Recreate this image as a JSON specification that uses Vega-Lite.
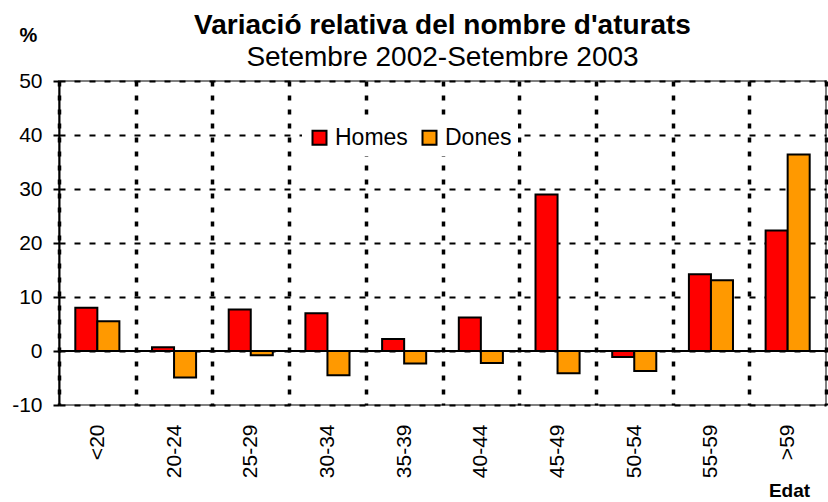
{
  "$schema": "https://vega.github.io/schema/vega-lite/v6.json",
  "autosize": "none",
  "width": 767,
  "height": 324,
  "padding": {"left": 59, "top": 81, "right": 2, "bottom": 97},
  "background": "white",
  "title": {
    "text": "Variació relativa del nombre d'aturats",
    "subtitle": "Setembre 2002-Setembre 2003",
    "font": "Liberation Sans",
    "fontSize": 28,
    "fontWeight": "bold",
    "color": "black",
    "subtitleFont": "Liberation Sans",
    "subtitleFontSize": 28,
    "subtitleColor": "black",
    "anchor": "middle",
    "offset": 9,
    "dy": 56,
    "subtitlePadding": 4
  },
  "config": {
    "view": {"stroke": "#808080", "strokeWidth": 2},
    "font": "Liberation Sans"
  },
  "data": {
    "values": [
      {"edat": "<20", "sexe": "Homes", "valor": 8.0},
      {"edat": "<20", "sexe": "Dones", "valor": 5.5},
      {"edat": "20-24", "sexe": "Homes", "valor": 0.7},
      {"edat": "20-24", "sexe": "Dones", "valor": -4.9},
      {"edat": "25-29", "sexe": "Homes", "valor": 7.7},
      {"edat": "25-29", "sexe": "Dones", "valor": -0.8},
      {"edat": "30-34", "sexe": "Homes", "valor": 7.0},
      {"edat": "30-34", "sexe": "Dones", "valor": -4.5},
      {"edat": "35-39", "sexe": "Homes", "valor": 2.2},
      {"edat": "35-39", "sexe": "Dones", "valor": -2.3},
      {"edat": "40-44", "sexe": "Homes", "valor": 6.2},
      {"edat": "40-44", "sexe": "Dones", "valor": -2.2},
      {"edat": "45-49", "sexe": "Homes", "valor": 29.0},
      {"edat": "45-49", "sexe": "Dones", "valor": -4.1},
      {"edat": "50-54", "sexe": "Homes", "valor": -1.1},
      {"edat": "50-54", "sexe": "Dones", "valor": -3.7},
      {"edat": "55-59", "sexe": "Homes", "valor": 14.2},
      {"edat": "55-59", "sexe": "Dones", "valor": 13.1},
      {"edat": ">59", "sexe": "Homes", "valor": 22.3},
      {"edat": ">59", "sexe": "Dones", "valor": 36.4}
    ]
  },
  "layer": [
    {
      "mark": {"type": "bar", "stroke": "black", "strokeWidth": 2},
      "encoding": {
        "x": {
          "field": "edat",
          "type": "nominal",
          "sort": null,
          "scale": {"paddingInner": 0, "paddingOuter": 0},
          "axis": {
            "grid": true,
            "tickBand": "extent",
            "gridColor": "black",
            "gridDash": [5, 9],
            "gridWidth": 3.5,
            "ticks": false,
            "domain": false,
            "labelAngle": -90,
            "labelAlign": "right",
            "labelBaseline": "middle",
            "labelPadding": 19,
            "labelFontSize": 21,
            "labelColor": "black",
            "title": "Edat",
            "titleFontSize": 19,
            "titleFontWeight": "bold",
            "titleColor": "black",
            "titleX": 730,
            "titleY": 85,
            "titleAlign": "center",
            "titleBaseline": "middle"
          }
        },
        "xOffset": {
          "field": "sexe",
          "sort": ["Homes", "Dones"],
          "scale": {"paddingOuter": 0.74, "paddingInner": 0}
        },
        "y": {
          "field": "valor",
          "type": "quantitative",
          "scale": {"domain": [-10, 50], "nice": false},
          "axis": {
            "values": [-10, 0, 10, 20, 30, 40, 50],
            "labelExpr": "'' + datum.value",
            "grid": true,
            "gridColor": "black",
            "gridDash": [6, 9],
            "gridWidth": 2,
            "tickSize": 6,
            "tickColor": "black",
            "tickWidth": 2,
            "domainColor": "black",
            "domainWidth": 2,
            "labelFontSize": 21,
            "labelColor": "black",
            "labelPadding": 11,
            "title": "%",
            "titleAngle": 0,
            "titleX": -31,
            "titleY": -46,
            "titleAlign": "center",
            "titleBaseline": "middle",
            "titleFontSize": 20,
            "titleFontWeight": "bold",
            "titleColor": "black"
          }
        },
        "color": {
          "field": "sexe",
          "type": "nominal",
          "sort": ["Homes", "Dones"],
          "scale": {"domain": ["Homes", "Dones"], "range": ["#FF0000", "#FF9900"]},
          "legend": {
            "orient": "none",
            "legendX": 243,
            "legendY": 39,
            "direction": "horizontal",
            "title": null,
            "fillColor": "white",
            "padding": 6,
            "labelFontSize": 23,
            "labelColor": "black",
            "labelOffset": 4,
            "columnPadding": 10,
            "symbolType": "square",
            "symbolSize": 196,
            "symbolOpacity": 1,
            "symbolStrokeColor": "black",
            "symbolStrokeWidth": 2
          }
        }
      }
    },
    {
      "mark": {"type": "rule", "color": "black", "strokeWidth": 2},
      "encoding": {"y": {"datum": 0}}
    }
  ]
}
